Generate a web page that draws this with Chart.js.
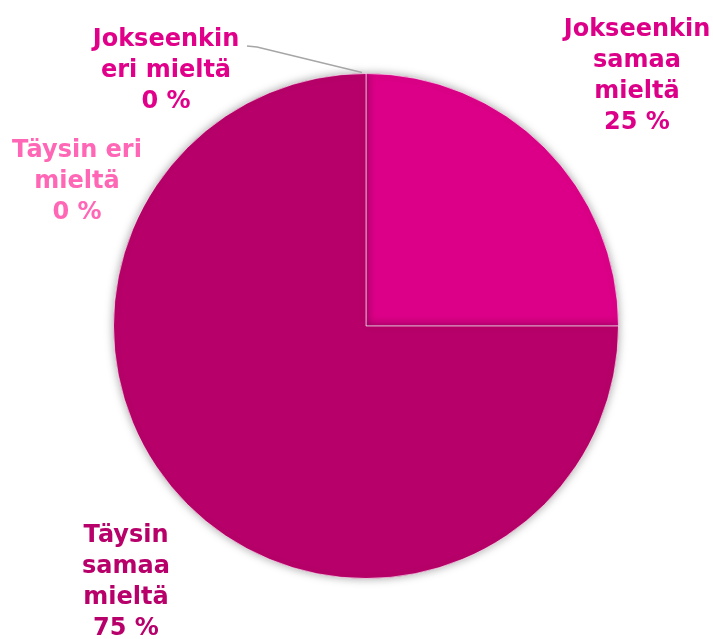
<!DOCTYPE html>
<html><head><meta charset="utf-8">
<script src="https://cdn.jsdelivr.net/npm/chart.js@4"></script>
<style>html,body{margin:0;padding:0;background:#fff}#wrap{width:713px;height:639px;position:relative}</style>
</head><body><div id="wrap"><canvas id="c" width="713" height="639"></canvas></div>
<script>
const categories = ["Jokseenkin samaa mieltä", "Täysin samaa mieltä", "Täysin eri mieltä", "Jokseenkin eri mieltä"];
const values = [25, 75, 0, 0];
const sliceColors = ["#DC0088", "#B8006A", "#FF66B5", "#E0008A"];
const labelLines = [["Jokseenkin", "samaa", "mieltä"], ["Täysin", "samaa", "mieltä"], ["Täysin eri", "mieltä"], ["Jokseenkin", "eri mieltä"]];
const labelPos = [[637, 36], [126, 542], [77, 157], [166, 46]];

const FONT = "bold 24px 'DejaVu Sans'";
const LH = 31;

const shadowPlugin = {
  id: 'shadow',
  beforeDatasetsDraw(chart) {
    const ctx = chart.ctx; ctx.save();
    ctx.shadowColor = 'rgba(0,0,0,0.35)'; ctx.shadowBlur = 10; ctx.shadowOffsetX = 0; ctx.shadowOffsetY = 0;
  },
  afterDatasetsDraw(chart) { chart.ctx.restore(); }
};

const labelPlugin = {
  id: 'labels',
  afterDraw(chart) {
    const ctx = chart.ctx;
    const meta = chart.getDatasetMeta(0);
    ctx.save();
    // leader line for "Jokseenkin eri mieltä" pointing to its zero-size slice at the top
    const arc = meta.data[3];
    const tx = arc.x + Math.cos(arc.startAngle) * arc.outerRadius;
    const ty = arc.y + Math.sin(arc.startAngle) * arc.outerRadius;
    ctx.strokeStyle = '#A6A6A6'; ctx.lineWidth = 1.5;
    ctx.beginPath(); ctx.moveTo(247, 46); ctx.lineTo(257, 47); ctx.lineTo(tx - 4, ty - 1); ctx.stroke();
    ctx.font = FONT; ctx.textAlign = 'center'; ctx.textBaseline = 'alphabetic';
    categories.forEach((c, i) => {
      const lines = labelLines[i].concat([values[i] + ' %']);
      ctx.fillStyle = sliceColors[i];
      lines.forEach((t, k) => ctx.fillText(t, labelPos[i][0], labelPos[i][1] + k * LH));
    });
    ctx.restore();
  }
};

new Chart(document.getElementById('c'), {
  type: 'pie',
  data: { labels: categories, datasets: [{ data: values, backgroundColor: sliceColors, borderColor: 'rgba(255,255,255,0.6)', borderWidth: 1 }] },
  options: {
    responsive: false, animation: false,
    layout: { padding: { left: 113, right: 94, top: 73, bottom: 60 } },
    plugins: { legend: { display: false }, tooltip: { enabled: false } }
  },
  plugins: [shadowPlugin, labelPlugin]
});
</script></body></html>
